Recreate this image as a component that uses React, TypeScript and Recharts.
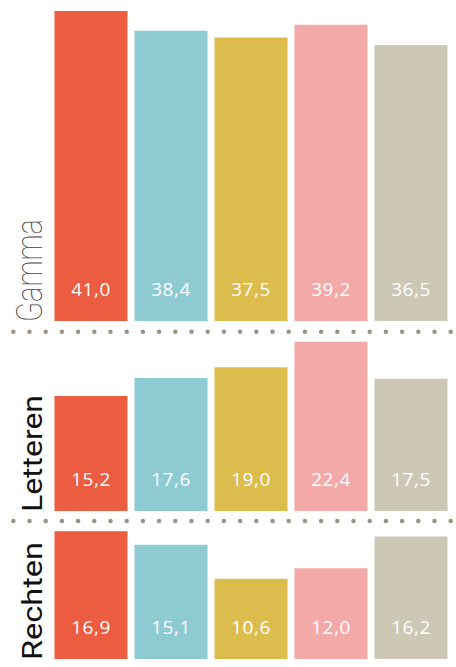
import { BarChart, Bar, XAxis, YAxis, Cell, LabelList } from "recharts";

// five unnamed groups, same order in every panel
const groups = ["g1", "g2", "g3", "g4", "g5"];
const barColors = ["#EC5C40", "#8ECAD2", "#DBBC4D", "#F3A9A7", "#CDC7B6"];

const gammaValues = [41.0, 38.4, 37.5, 39.2, 36.5];
const letterenValues = [15.2, 17.6, 19.0, 22.4, 17.5];
const rechtenValues = [16.9, 15.1, 10.6, 12.0, 16.2];

const PX_PER_UNIT = 7.56;
const WIDTH = 456;

const fmt = (v: number) => v.toFixed(1).replace(".", ",");

const ValueLabel = (props: any) => {
  const { x, y, width, height, value } = props;
  return (
    <text
      x={Number(x) + Number(width) / 2}
      y={Number(y) + Number(height) - 25}
      textAnchor="middle"
      fill="#ffffff"
      fontSize={19}
      fontFamily="Open Sans"
      letterSpacing={0.5}
    >
      {fmt(Number(value))}
    </text>
  );
};

type PanelProps = {
  title: string;
  values: number[];
  top: number;
  height: number;
  titleLength: number;
  titleStyle: any;
};

function Panel({ title, values, top, height, titleLength, titleStyle }: PanelProps) {
  const data = groups.map((g, i) => ({ group: g, value: values[i] }));
  return (
    <div style={{ position: "absolute", left: 0, top, width: WIDTH, height }}>
      <BarChart
        width={WIDTH}
        height={height}
        data={data}
        margin={{ top: 0, right: 5.5, bottom: 0, left: 0 }}
        barSize={73}
      >
        <XAxis dataKey="group" hide />
        <YAxis
          width={50.5}
          domain={[0, height / PX_PER_UNIT]}
          tick={false}
          axisLine={false}
          tickLine={false}
          label={{
            content: () => (
              <text
                x={42}
                y={height + 1}
                transform={`rotate(-90, 42, ${height + 1})`}
                textAnchor="start"
                textLength={titleLength}
                lengthAdjust="spacingAndGlyphs"
                {...titleStyle}
              >
                {title}
              </text>
            ),
          }}
        />
        <Bar dataKey="value" isAnimationActive={false}>
          {data.map((d, i) => (
            <Cell key={d.group} fill={barColors[i]} />
          ))}
          <LabelList dataKey="value" content={ValueLabel} />
        </Bar>
      </BarChart>
    </div>
  );
}

const Dots = ({ y }: { y: number }) => (
  <line
    x1={13.3}
    x2={456}
    y1={y}
    y2={y}
    stroke="#9C9284"
    strokeWidth={4.5}
    strokeLinecap="round"
    strokeDasharray="0 16.2"
  />
);

export default function App() {
  return (
    <div style={{ position: "absolute", left: 0, top: 0, width: WIDTH, height: 667, background: "#fff" }}>
      <Panel
        title="Gamma"
        values={gammaValues}
        top={0}
        height={321}
        titleLength={103}
        titleStyle={{ fontFamily: "Roboto", fontWeight: 100, fontSize: 37, fill: "#444" }}
      />
      <Panel
        title="Letteren"
        values={letterenValues}
        top={336}
        height={175}
        titleLength={117}
        titleStyle={{ fontFamily: "Roboto", fontWeight: 400, fontSize: 28, fill: "#111" }}
      />
      <Panel
        title="Rechten"
        values={rechtenValues}
        top={526}
        height={133}
        titleLength={118}
        titleStyle={{ fontFamily: "Roboto", fontWeight: 400, fontSize: 28, fill: "#111" }}
      />
      <svg
        width={WIDTH}
        height={667}
        style={{ position: "absolute", left: 0, top: 0, pointerEvents: "none" }}
      >
        <Dots y={331.7} />
        <Dots y={521} />
      </svg>
    </div>
  );
}
